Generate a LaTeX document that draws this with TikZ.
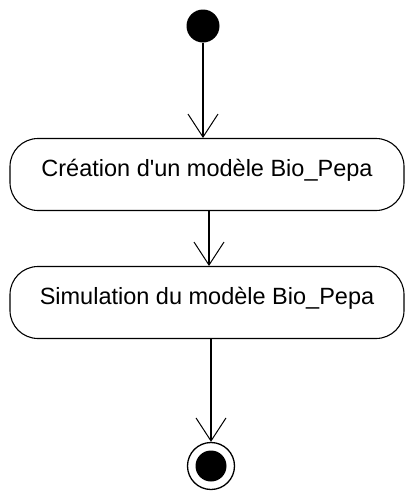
\documentclass[tikz,border=0pt]{standalone}
\usepackage{fontspec}
\setmainfont{Liberation Sans}[Ligatures=TeXOff]
\usetikzlibrary{arrows.meta}
\begin{document}
\begin{tikzpicture}[x=1pt,y=-1pt,
  actbox/.style={draw, line width=1.1pt, rounded corners=28pt,
    minimum width=394pt, minimum height=72pt, inner sep=0pt,
    text height=17pt, text depth=14pt,
    font=\fontsize{23.5pt}{26pt}\selectfont},
  flow/.style={line width=1.1pt, -{Straight Barb[length=23pt,width=30pt,line width=1pt]}},
  initstate/.style={circle, fill=black, minimum size=33pt, inner sep=0pt},
  finalouter/.style={circle, draw, line width=1.3pt, minimum size=47pt, inner sep=0pt},
  finalinner/.style={circle, fill=black, minimum size=31pt, inner sep=0pt}]
\useasboundingbox (0,0) rectangle (408,491);
\node[initstate] (start) at (203,26) {};
\node[actbox] (b1) at (207,174.5) {Création d'un modèle Bio\_Pepa};
\node[actbox] (b2) at (207,302.5) {Simulation du modèle Bio\_Pepa};
\node[finalouter] (end) at (211,466) {};
\node[finalinner] (endin) at (end.center) {};
\draw[flow] (start) -- (start |- b1.north);
\draw[flow] ([xshift=2pt]b1.south) -- ([xshift=2pt]b1.south |- b2.north);
\draw[flow] ([xshift=4pt]b2.south) -- (end);
\end{tikzpicture}
\end{document}
